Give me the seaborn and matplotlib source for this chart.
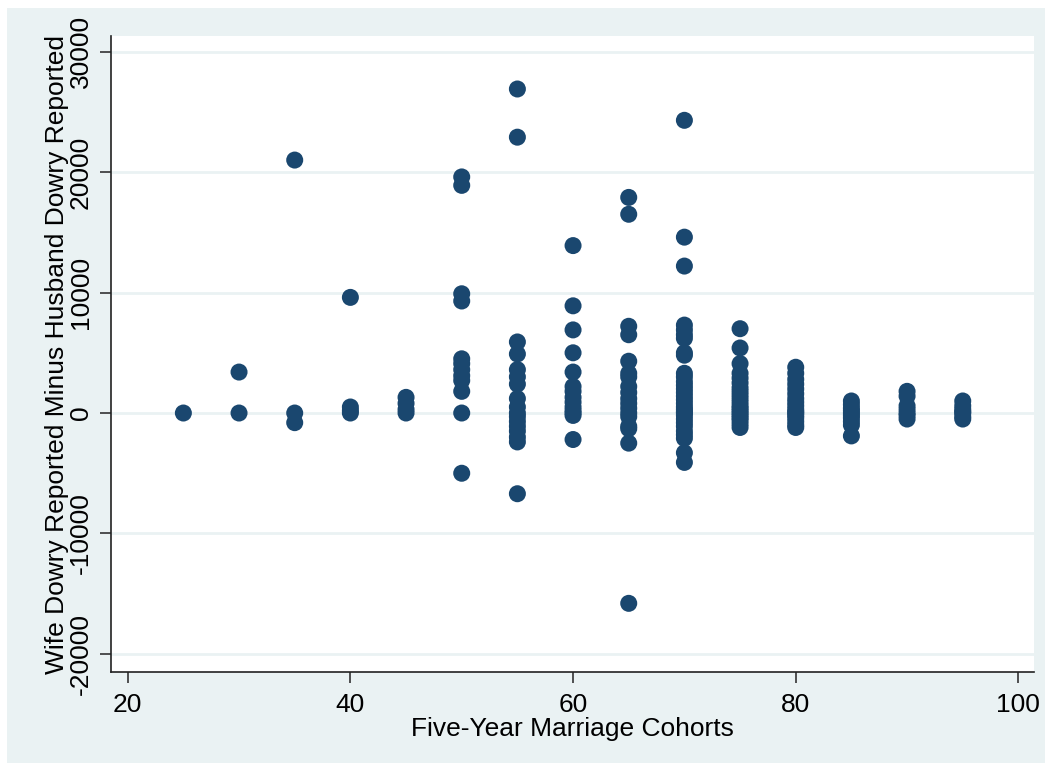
import pandas as pd
import seaborn as sns
import matplotlib.pyplot as plt
from matplotlib.patches import Rectangle

# dowry difference (wife minus husband) per five-year marriage cohort
c25 = [0]
c30 = [3400, 0]
c35 = [21000, 0, -800]
c40 = [9600, 500, 200, 0]
c45 = [1300, 800, 300, 0]
c50 = [19600, 18900, 9900, 9300, 4500, 4100, 3600, 3100, 2700, 1800, 0, -5000]
c55 = [26900, 22900, 5900, 4900, 3600, 3000, 2400, 1200, 500, 0, -300, -700,
       -1100, -1500, -2000, -2400, -6700]
c60 = [13900, 8900, 6900, 5000, 3400, 2200, 1800, 1300, 900, 500, 200, 0, -200, -2200]
c65 = [17900, 16500, 7200, 6500, 4300, 3300, 3000, 2200, 1700, 1200, 800, 400,
       0, -300, -1100, -1300, -2500, -15800]
c70 = [24300, 14600, 12200, 7300, 6900, 6500, 6200, 5000, 4800, 3300, 3000, 2600,
       2300, 2000, 1700, 1400, 1100, 800, 500, 300, 100, 0, -200, -500, -800,
       -1100, -1500, -1800, -2100, -3300, -4100]
c75 = [7000, 5400, 4100, 3300, 2900, 2500, 2100, 1800, 1500, 1200, 900, 600, 400,
       200, 0, -200, -400, -600, -900, -1200]
c80 = [3800, 3300, 2800, 2400, 2000, 1600, 1200, 900, 600, 300, 100, 0, -200,
       -400, -700, -1000, -1200]
c85 = [1000, 700, 400, 200, 0, -200, -400, -700, -1000, -1900]
c90 = [1800, 1400, 600, 300, 0, -200, -500]
c95 = [1000, 600, 300, 100, 0, -300, -500]

cohorts = {25: c25, 30: c30, 35: c35, 40: c40, 45: c45, 50: c50, 55: c55, 60: c60,
           65: c65, 70: c70, 75: c75, 80: c80, 85: c85, 90: c90, 95: c95}
rows = [(k, v) for k, vals in cohorts.items() for v in vals]
df = pd.DataFrame(rows, columns=['cohort', 'diff'])

x_ticks = [20, 40, 60, 80, 100]
y_ticks = [-20000, -10000, 0, 10000, 20000, 30000]

sns.set_style('white')
plt.rcParams['font.family'] = ['Liberation Sans', 'DejaVu Sans']

bg = '#EAF2F3'
fig = plt.figure(figsize=(10.51, 7.71), dpi=100, facecolor='white')
fig.patches.append(Rectangle((7 / 1051, 8 / 771), 1038 / 1051, 755 / 771,
                             transform=fig.transFigure, facecolor=bg,
                             edgecolor='none', zorder=-10))
ax = fig.add_axes([111 / 1051, 99 / 771, 923 / 1051, 636 / 771])
ax.set_facecolor('white')

for t in y_ticks:
    ax.axhline(t, color=bg, lw=2, zorder=0)

sns.scatterplot(data=df, x='cohort', y='diff', color='#1A476F', s=150,
                edgecolor='none', ax=ax, zorder=3)

ax.set_xlim(18.5, 101.4)
ax.set_ylim(-21500, 31300)
ax.set_xticks(x_ticks)
ax.set_yticks(y_ticks)
ax.set_yticklabels([str(t) for t in y_ticks], rotation=90, va='center')
ax.tick_params(axis='both', labelsize=19, length=8, width=1.2, color='#333333',
               labelcolor='black', direction='out', pad=5,
               bottom=True, left=True)
ax.tick_params(axis='x', pad=7)
for s in ['top', 'right']:
    ax.spines[s].set_visible(False)
for s in ['left', 'bottom']:
    ax.spines[s].set_color('#222222')
    ax.spines[s].set_linewidth(1.2)

ax.set_xlabel('Five-Year Marriage Cohorts', fontsize=19, color='black', labelpad=0)
ax.set_ylabel('Wife Dowry Reported Minus Husband Dowry Reported', fontsize=19,
              color='black', labelpad=0)

fig.savefig('out.png', dpi=100, facecolor='white')
